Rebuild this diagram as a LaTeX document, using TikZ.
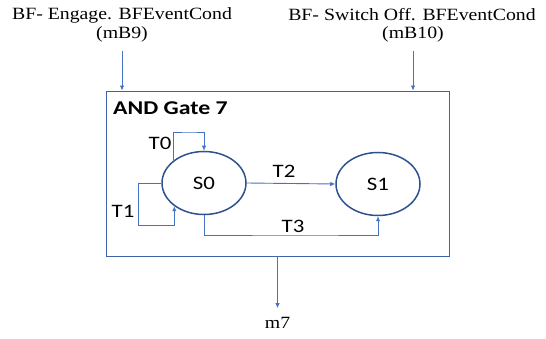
\documentclass[tikz,border=0pt]{standalone}
\usepackage{fontspec}
\setmainfont{Liberation Serif}
\newfontfamily\calfont{Carlito}
\usetikzlibrary{shapes.geometric,arrows.meta}
\definecolor{lineblue}{HTML}{4472C4}
\definecolor{darkblue}{HTML}{2F528F}
\definecolor{boxblue}{HTML}{3F62A8}
\newcommand{\sx}[1]{\scalebox{1.15}[1]{#1}}
\newcommand{\cx}[1]{\scalebox{1.2}[1]{#1}}
\tikzset{
  x=1pt,y=-1pt,
  toplbl/.style={inner sep=0pt,font=\fontsize{17.2}{19}\selectfont},
  state/.style={ellipse,draw=darkblue,line width=1.5pt,minimum width=84pt,minimum height=63pt,inner sep=0pt,font=\calfont\fontsize{19}{22}\selectfont},
  tlbl/.style={inner sep=0pt,font=\calfont\fontsize{19}{22}\selectfont},
  arr/.style={draw=lineblue,line width=0.9pt,-{Latex[length=5pt,width=4.5pt]}},
  gatebox/.style={draw=boxblue,line width=0.9pt,minimum width=343pt,minimum height=165pt,inner sep=0pt}
}
\begin{document}
\begin{tikzpicture}
\useasboundingbox (0,0) rectangle (546,339);
% top labels
\node[toplbl] (l1a) at (122,15) {\sx{BF- Engage. BFEventCond}};
\node[toplbl] (l1b) at (122,34) {\sx{(mB9)}};
\node[toplbl] (l2a) at (412,15) {\sx{BF- Switch Off. BFEventCond}};
\node[toplbl] (l2b) at (413,34) {\sx{(mB10)}};
% gate box
\node[gatebox] (gate) at (277.5,173.5) {};
\node[tlbl,anchor=west,font=\calfont\bfseries\fontsize{19.5}{22}\selectfont] (title) at (113,108.5) {\scalebox{1.22}[1]{AND Gate 7}};
% states
\node[state] (s0) at (204,183) {\cx{S0}};
\node[state] (s1) at (378,184) {\cx{S1}};
% helper coordinates
\coordinate (t0c) at (190,132);
\coordinate (t1c) at (138,225);
\coordinate (t3c) at (300,235);
% inputs
\draw[arr] (l1b.south) ++(0,9) coordinate (in1) -- (in1 |- gate.north);
\draw[arr] (l2b.south) ++(0,9) coordinate (in2) -- (in2 |- gate.north);
% transitions
\draw[arr] (s0.143) |- (t0c) -| (s0.north);
\draw[arr] (s0.west) -| (t1c) -| (s0.218);
\draw[arr] (s0.east) -- (s1.west);
\draw[arr] (s0.south) |- (t3c) -| (s1.south);
% labels
\node[tlbl] (lt0) at (160,143) {\cx{T0}};
\node[tlbl] (lt1) at (123,211) {\cx{T1}};
\node[tlbl] (lt2) at (284,171) {\cx{T2}};
\node[tlbl] (lt3) at (293,226) {\cx{T3}};
% output
\node[toplbl] (m7) at (277.5,323) {\sx{m7}};
\draw[arr] (gate.south) -- (m7.north) [shorten >=9pt];
\end{tikzpicture}
\end{document}
